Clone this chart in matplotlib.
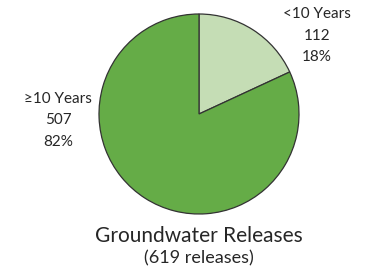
import matplotlib
matplotlib.use("Agg")
import matplotlib.pyplot as plt

# ===== DATA =====
categories = ["<10 Years", "\u226510 Years"]
counts = [112, 507]
colors = ["#C5DDB5", "#65AC47"]
title = "Groundwater Releases"
subtitle = "(619 releases)"

W, H = 366, 270
plt.rcParams["font.family"] = ["Lato", "DejaVu Sans"]

fig = plt.figure(figsize=(W / 100, H / 100), dpi=100)
ax = fig.add_axes([0, 0, 1, 1])

ax.pie(counts, colors=colors, startangle=90, counterclock=False,
       center=(199, H - 114), radius=100,
       wedgeprops=dict(edgecolor="#333333", linewidth=0.9))

# pie() resets the limits, so work in pixel units afterwards
ax.set_xlim(0, W)
ax.set_ylim(0, H)
ax.set_aspect("equal")
ax.axis("off")

total = sum(counts)
label_pos = [(317, H - 14), (58, H - 99)]   # top line of each label
for cat, n, (x, y) in zip(categories, counts, label_pos):
    pct = round(100 * n / total)
    for i, line in enumerate([cat, str(n), f"{pct}%"]):
        ax.text(x, y - i * 21.5, line, ha="center", va="center",
                fontsize=11, color="#262626")

ax.text(199, H - 236, title, ha="center", va="center", fontsize=15, color="#262626")
ax.text(199, H - 258, subtitle, ha="center", va="center", fontsize=13, color="#262626")

fig.savefig("out.png", dpi=100)
